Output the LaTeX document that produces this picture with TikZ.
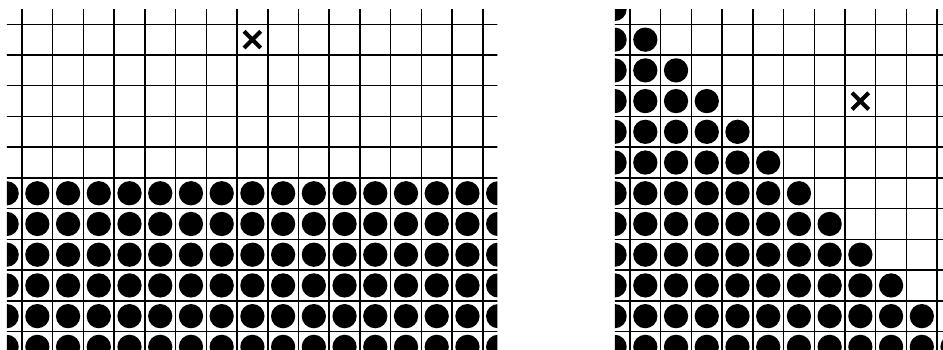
\documentclass[tikz,border=0pt]{standalone}
\begin{document}
\begin{tikzpicture}[x=1cm,y=1cm,
  gridline/.style={line width=1.4pt,black},
  disc/.style={fill=black},
  cross/.style={line width=3.8pt,black}]
\useasboundingbox (-0.716,0.791) rectangle (29.98,-10.57);
% left panel
\begin{scope}
  \clip (-0.49,0.466) rectangle (15.47,-10.8);
  \foreach \r in {5,...,10}
    \foreach \c in {-1,...,15}
      \fill[disc] (\c+0.5,-\r-0.5) circle (0.395);
  \foreach \x in {0,...,15} \draw[gridline] (\x,0.6) -- (\x,-10.8);
  \foreach \y in {0,...,10} \draw[gridline] (-0.6,-\y) -- (15.6,-\y);
  \draw[cross] (7.23,-0.23) -- (7.77,-0.77) (7.23,-0.77) -- (7.77,-0.23);
\end{scope}
% right panel
\begin{scope}[xshift=19.79cm]
  \clip (-0.49,0.466) rectangle (11.5,-10.8);
  \foreach \r in {-1,...,10}
    \foreach \c in {-1,...,\r}
      \fill[disc] (\c+0.5,-\r-0.5) circle (0.395);
  \foreach \x in {0,...,11} \draw[gridline] (\x,0.6) -- (\x,-10.8);
  \foreach \y in {0,...,10} \draw[gridline] (-0.6,-\y) -- (11.5,-\y);
  \draw[cross] (7.23,-2.23) -- (7.77,-2.77) (7.23,-2.77) -- (7.77,-2.23);
\end{scope}
\end{tikzpicture}
\end{document}
